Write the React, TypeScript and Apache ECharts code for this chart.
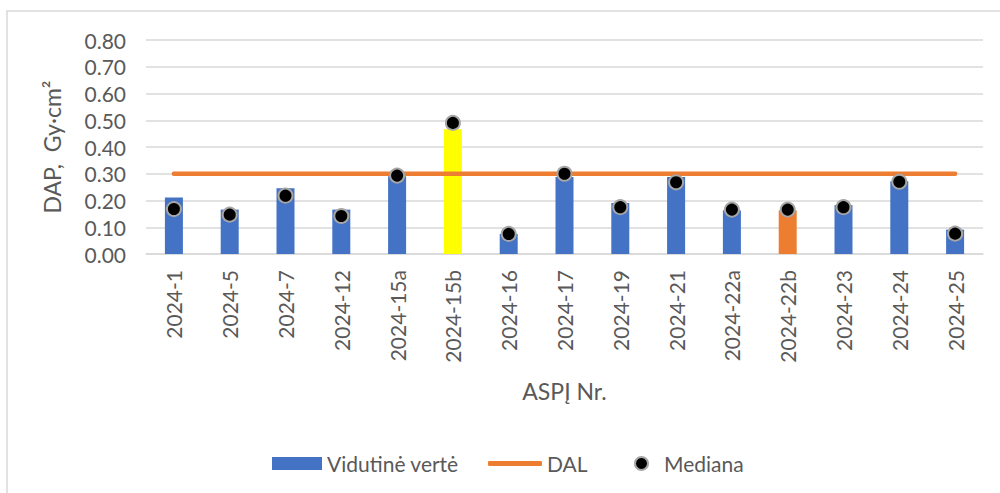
import React, { useEffect, useRef } from "react";
import * as echarts from "echarts";

const categories = [
  "2024-1", "2024-5", "2024-7", "2024-12", "2024-15a", "2024-15b", "2024-16", "2024-17",
  "2024-19", "2024-21", "2024-22a", "2024-22b", "2024-23", "2024-24", "2024-25",
];
const meanValues = [0.211, 0.166, 0.246, 0.166, 0.291, 0.466, 0.075, 0.288, 0.191, 0.288, 0.163, 0.163, 0.183, 0.272, 0.091];
const medianValues = [0.168, 0.147, 0.218, 0.142, 0.293, 0.49, 0.075, 0.30, 0.175, 0.268, 0.166, 0.166, 0.175, 0.27, 0.076];
const dalValues = categories.map(() => 0.3);
const yTicks = { min: 0, max: 0.8, interval: 0.1 };

const BLUE = "#4472C4";
const ORANGE = "#ED7D31";
const YELLOW = "#FFFF00";
const barColors: Record<string, string> = { "2024-15b": YELLOW, "2024-22b": ORANGE };
const FONT = "Lato";
const TEXT = "#595959";

export default function App() {
  const ref = useRef<HTMLDivElement>(null);
  useEffect(() => {
    if (!ref.current) return;
    const chart = echarts.init(ref.current, undefined, { renderer: "svg" });
    chart.setOption({
      animation: false,
      backgroundColor: "#fff",
      textStyle: { fontFamily: FONT },
      graphic: [
        {
          type: "rect",
          shape: { x: 7, y: 11, width: 1020, height: 520 },
          style: { fill: "none", stroke: "#d9d9d9", lineWidth: 1.5 },
          silent: true,
        },
      ],
      grid: { left: 146, right: 17, top: 40, bottom: 239, containLabel: false },
      legend: [
        {
          data: [{ name: "Vidutinė vertė", icon: "rect" }],
          left: 267, top: 448, itemWidth: 50, itemHeight: 13, itemGap: 5,
          textStyle: { fontSize: 21, color: TEXT, fontFamily: FONT },
          selectedMode: false,
        },
        {
          data: [{ name: "DAL", icon: "roundRect" }],
          left: 483, top: 448, itemWidth: 54, itemHeight: 5, itemGap: 4,
          textStyle: { fontSize: 21, color: TEXT, fontFamily: FONT },
          selectedMode: false,
        },
        {
          data: [{ name: "Mediana", icon: "circle" }],
          left: 629, top: 448, itemWidth: 13, itemHeight: 13,
          textStyle: { fontSize: 21, color: TEXT, fontFamily: FONT, padding: [0, 0, 0, 11] },
          selectedMode: false,
        },
      ],
      xAxis: {
        type: "category",
        data: categories,
        boundaryGap: true,
        axisTick: { show: false },
        axisLine: { lineStyle: { color: "#d9d9d9", width: 1.5 } },
        axisLabel: { rotate: 90, margin: 16, fontSize: 21, color: TEXT, fontFamily: FONT, interval: 0 },
        name: "ASPĮ Nr.",
        nameLocation: "middle",
        nameGap: 125,
        nameTextStyle: { fontSize: 23, color: TEXT, fontFamily: FONT },
      },
      yAxis: {
        type: "value",
        min: yTicks.min,
        max: yTicks.max,
        interval: yTicks.interval,
        axisLine: { show: false },
        axisTick: { show: false },
        splitLine: { lineStyle: { color: "#d9d9d9", width: 1.5 } },
        axisLabel: {
          margin: 20, fontSize: 21, lineHeight: 24, color: TEXT, fontFamily: FONT,
          formatter: (v: number) => v.toFixed(2),
        },
        name: "DAP,  Gy·cm²",
        nameLocation: "middle",
        nameGap: 83,
        nameTextStyle: { fontSize: 23, color: TEXT, fontFamily: FONT },
      },
      series: [
        {
          name: "Vidutinė vertė",
          type: "bar",
          barWidth: 18,
          itemStyle: { color: BLUE },
          data: meanValues.map((v, i) => ({
            value: v,
            itemStyle: { color: barColors[categories[i]] || BLUE },
          })),
          z: 2,
        },
        {
          name: "DAL",
          type: "line",
          data: dalValues,
          symbol: "none",
          itemStyle: { color: ORANGE },
          lineStyle: { color: ORANGE, width: 4.5, cap: "round" },
          z: 3,
        },
        {
          name: "Mediana",
          type: "scatter",
          data: medianValues,
          symbol: "circle",
          symbolSize: 14,
          itemStyle: { color: "#000", borderColor: "#a6a6a6", borderWidth: 2, opacity: 1 },
          z: 4,
        },
      ],
    });
    return () => chart.dispose();
  }, []);
  return (
    <div
      ref={ref}
      style={{ position: "absolute", left: 0, top: 0, width: 1000, height: 493 }}
    />
  );
}
